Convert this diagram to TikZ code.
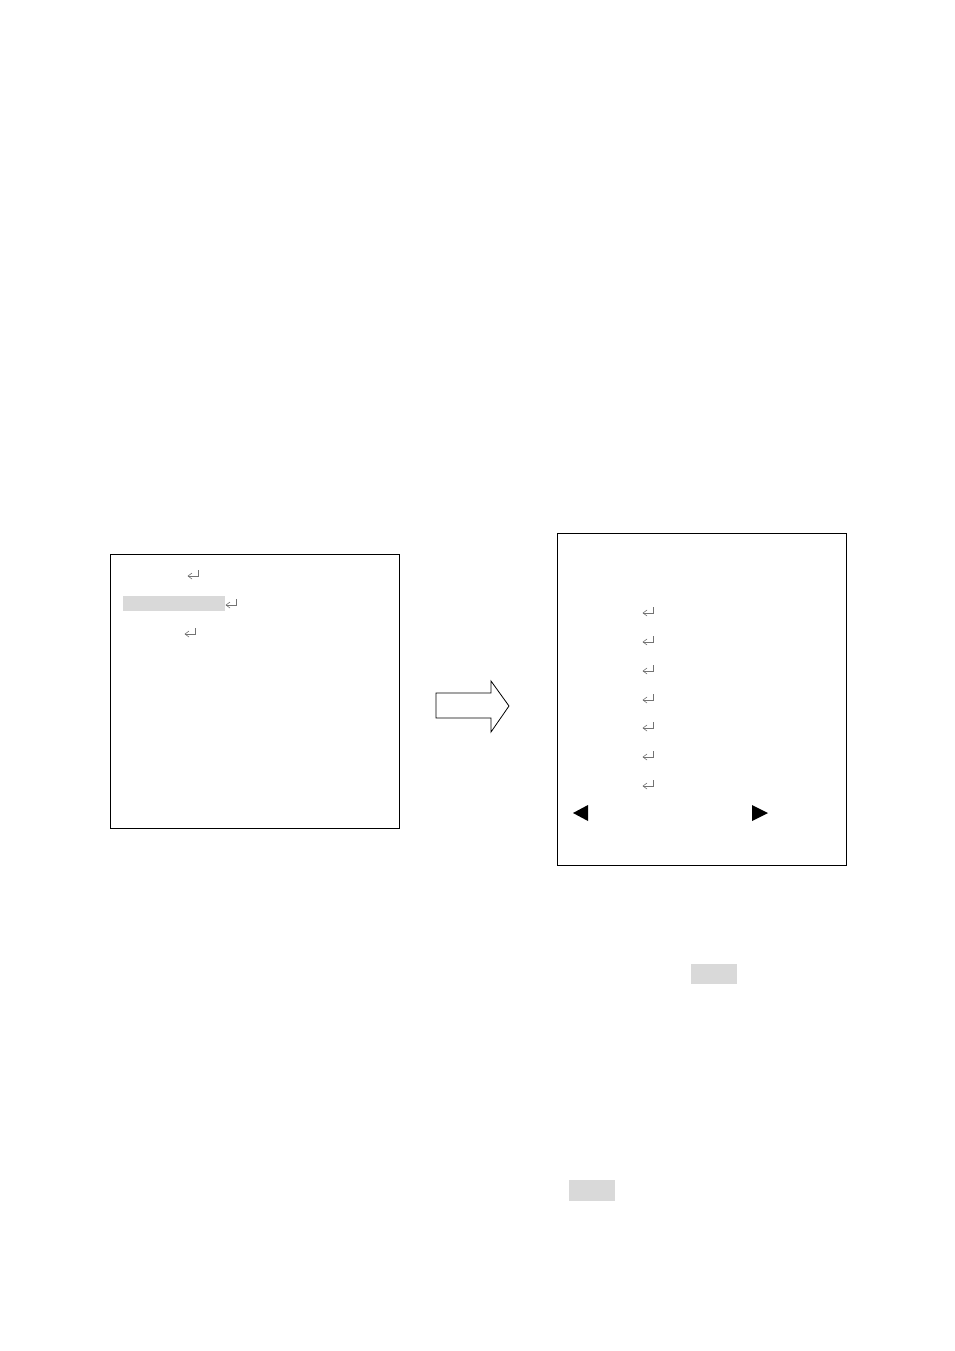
\documentclass[tikz,border=0pt]{standalone}
\begin{document}
\begin{tikzpicture}[x=1pt,y=-1pt,
  frame/.style={draw=black,line width=1pt,fill=white},
  hilite/.style={fill=black!15,draw=none},
  retmark/.pic={\draw[black!55,line width=0.6pt] (11,0) -- (11,6) -- (1,6);
                \draw[black!55,line width=0.6pt] (5,3) -- (1,6) -- (5,9);},
  tri/.style={fill=black,draw=none}]
\useasboundingbox (0,0) rectangle (954,1351);
\fill[white] (0,0) rectangle (954,1351);
% left box
\draw[frame] (110,554) rectangle (399,828);
\fill[hilite] (123,596) rectangle (225,611);
\pic at (187,570) {retmark};
\pic at (225,599) {retmark};
\pic at (184,628) {retmark};
% arrow
\draw[line width=0.8pt,fill=white] (436,693) -- (491,693) -- (491,681) -- (509,706) -- (491,732) -- (491,718) -- (436,718) -- cycle;
% right box
\draw[frame] (557,533) rectangle (846,865);
\foreach \yy in {607,636,665,694,722,751,780} {\pic at (642,\yy) {retmark};}
\fill[tri] (573,813) -- (588,805) -- (588,821) -- cycle;
\fill[tri] (768,813) -- (752,805) -- (752,821) -- cycle;
% highlights below
\fill[hilite] (691,964) rectangle (737,984);
\fill[hilite] (569,1180) rectangle (615,1201);
\end{tikzpicture}
\end{document}
